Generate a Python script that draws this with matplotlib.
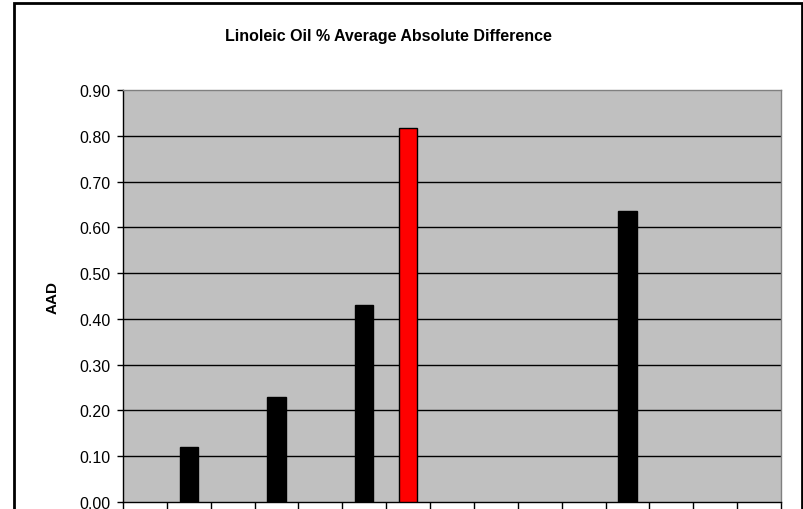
import matplotlib
matplotlib.use("Agg")
import matplotlib.pyplot as plt
from matplotlib.patches import Rectangle
import numpy as np

plt.rcParams['font.family'] = ['Liberation Sans', 'DejaVu Sans']

# Data (15 category slots; only some carry bars)
n_categories = 15
bar_slots = [1, 3, 5, 6, 11]
aad_values = [0.12, 0.23, 0.43, 0.818, 0.635]
bar_colors = ['#000000', '#000000', '#000000', '#FF0000', '#000000']
y_ticks = [0.0, 0.1, 0.2, 0.3, 0.4, 0.5, 0.6, 0.7, 0.8, 0.9]

W, H = 804, 510
fig = plt.figure(figsize=(W / 100, H / 100), dpi=100)
fig.patch.set_facecolor('white')

# outer chart border
fig.add_artist(Rectangle((14 / W, -0.05), (802 - 14) / W, (H - 4) / H + 0.05,
                         transform=fig.transFigure, fill=False,
                         edgecolor='black', linewidth=2, clip_on=False))

left, right, top, bottom = 123, 781, 91, 503
ax = fig.add_axes([left / W, (H - bottom) / H, (right - left) / W, (bottom - top) / H])
ax.set_facecolor('#C0C0C0')

ax.set_xlim(0, n_categories)
ax.set_ylim(0, 0.9)

for yv in y_ticks[1:-1]:
    ax.axhline(yv, color='black', linewidth=1, zorder=1)

x = np.array(bar_slots) + 0.5
ax.bar(x, aad_values, width=0.42, color=bar_colors, edgecolor='black',
       linewidth=1, zorder=3)

ax.set_yticks(y_ticks)
ax.set_yticklabels([f"{v:.2f}" for v in y_ticks], fontsize=11.5)
ax.tick_params(axis='y', direction='out', length=4, width=1, pad=5, color='black')
ax.set_xticks(np.arange(0, n_categories + 1))
ax.set_xticklabels([])
ax.tick_params(axis='x', direction='out', length=6, width=1, color='black')

ax.spines['left'].set_color('black')
ax.spines['bottom'].set_color('black')
ax.spines['top'].set_color('#808080')
ax.spines['right'].set_color('#808080')
for s in ax.spines.values():
    s.set_linewidth(1)

ax.set_ylabel('AAD', fontsize=11, fontweight='bold')
ax.yaxis.set_label_coords(-(123 - 60) / (right - left), 0.5)

fig.text(388 / W, 1 - 36 / H, 'Linoleic Oil % Average Absolute Difference',
         ha='center', va='center', fontsize=11.5, fontweight='bold')

fig.savefig('out.png', dpi=100)
